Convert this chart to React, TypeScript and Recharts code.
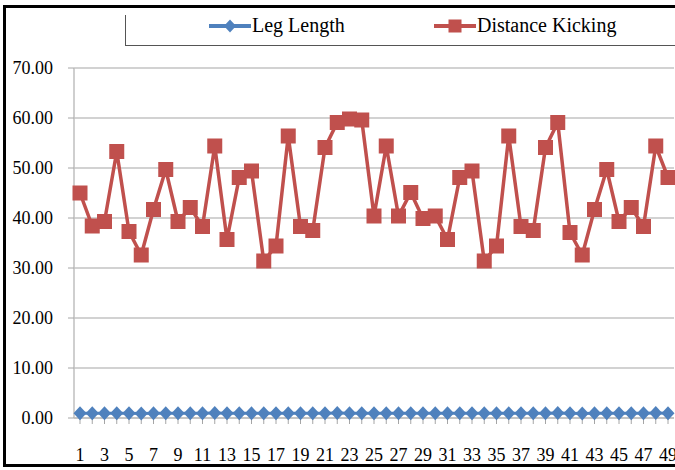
import React from 'react';
import { LineChart, Line, XAxis, YAxis, CartesianGrid } from 'recharts';

const trials = [
  '1', '2', '3', '4', '5', '6', '7', '8', '9', '10',
  '11', '12', '13', '14', '15', '16', '17', '18', '19', '20',
  '21', '22', '23', '24', '25', '26', '27', '28', '29', '30',
  '31', '32', '33', '34', '35', '36', '37', '38', '39', '40',
  '41', '42', '43', '44', '45', '46', '47', '48', '49',
];

const legLength = [
  0.95, 0.93, 0.96, 0.97, 0.94, 0.92, 0.95, 0.96, 0.93, 0.94,
  0.97, 0.98, 0.95, 0.94, 0.93, 0.96, 0.95, 0.97, 0.94, 0.93,
  0.96, 0.98, 0.97, 0.95, 0.94, 0.96, 0.93, 0.95, 0.94, 0.96,
  0.95, 0.94, 0.93, 0.96, 0.95, 0.97, 0.94, 0.93, 0.96, 0.98,
  0.94, 0.92, 0.95, 0.96, 0.93, 0.94, 0.97, 0.98, 0.95,
];

const distanceKicking = [
  45.0, 38.4, 39.3, 53.3, 37.3, 32.6, 41.7, 49.7, 39.3, 42.1,
  38.3, 54.4, 35.7, 48.1, 49.4, 31.4, 34.4, 56.4, 38.3, 37.5,
  54.1, 59.1, 59.8, 59.6, 40.4, 54.4, 40.4, 45.1, 39.9, 40.4,
  35.7, 48.1, 49.4, 31.4, 34.4, 56.4, 38.3, 37.5, 54.1, 59.1,
  37.1, 32.6, 41.7, 49.7, 39.3, 42.1, 38.3, 54.4, 48.1,
];

const yTicks = [0, 10, 20, 30, 40, 50, 60, 70];

const BLUE = '#4F81BD';
const RED = '#C0504D';
const FONT = 'Liberation Serif, Tinos, DejaVu Serif, serif';

const data = trials.map((t, i) => ({
  trial: t,
  leg: legLength[i],
  distance: distanceKicking[i],
}));

const SquareDot = (props: any) => {
  const { cx, cy, index } = props;
  if (cx == null || cy == null) return <g key={index} />;
  return <rect key={index} x={cx - 7.5} y={cy - 7.5} width={15} height={15} fill={RED} />;
};

const DiamondDot = (props: any) => {
  const { cx, cy, index } = props;
  if (cx == null || cy == null) return <g key={index} />;
  return (
    <polygon
      key={index}
      points={`${cx},${cy - 7} ${cx + 6.5},${cy} ${cx},${cy + 7} ${cx - 6.5},${cy}`}
      fill={BLUE}
    />
  );
};

const LegendIcon = ({ color, shape }: { color: string; shape: 'diamond' | 'square' }) => (
  <svg width={42} height={16} style={{ display: 'block' }}>
    <line x1={0} y1={8} x2={42} y2={8} stroke={color} strokeWidth={4} />
    {shape === 'diamond' ? (
      <polygon points="21,1.5 27,8 21,14.5 15,8" fill={color} />
    ) : (
      <rect x={14.5} y={1.5} width={13} height={13} fill={color} />
    )}
  </svg>
);

const App: React.FC = () => {
  return (
    <div
      style={{
        position: 'absolute',
        left: 0,
        top: 0,
        width: 675,
        height: 470,
        overflow: 'hidden',
        background: '#fff',
        fontFamily: FONT,
      }}
    >
      {/* outer frame, runs off the right edge */}
      <div
        style={{
          position: 'absolute',
          left: 3,
          top: 5,
          width: 700,
          height: 456,
          border: '3px solid #000',
        }}
      />
      {/* legend box */}
      <div
        style={{
          position: 'absolute',
          left: 125,
          top: 15,
          width: 600,
          height: 30,
          borderLeft: '1.5px solid #555',
          borderBottom: '1.5px solid #555',
        }}
      />
      <div style={{ position: 'absolute', left: 209, top: 14, display: 'flex', alignItems: 'center' }}>
        <LegendIcon color={BLUE} shape="diamond" />
        <span style={{ fontSize: 20, marginLeft: 1, color: '#000', fontFamily: FONT }}>Leg Length</span>
      </div>
      <div style={{ position: 'absolute', left: 434, top: 14, display: 'flex', alignItems: 'center' }}>
        <LegendIcon color={RED} shape="square" />
        <span style={{ fontSize: 20, marginLeft: 1, color: '#000', fontFamily: FONT }}>Distance Kicking</span>
      </div>

      <div style={{ position: 'absolute', left: 0, top: 0 }}>
        <LineChart
          width={675}
          height={470}
          data={data}
          margin={{ top: 68, right: 1, bottom: 2, left: 0 }}
        >
          <CartesianGrid vertical={false} stroke="#A6A6A6" strokeWidth={1.2} />
          <XAxis
            dataKey="trial"
            interval={0}
            padding={{ left: 6, right: 6 }}
            tickFormatter={(v: string) => (Number(v) % 2 === 1 ? v : '')}
            height={50}
            tickSize={6}
            tickMargin={24}
            axisLine={{ stroke: '#BFBFBF', strokeWidth: 1.5 }}
            tickLine={{ stroke: '#A6A6A6' }}
            tick={{ fill: '#000', fontSize: 18, fontFamily: FONT }}
          />
          <YAxis
            domain={[0, 70]}
            ticks={yTicks}
            width={74}
            tickSize={6}
            tickMargin={15}
            tickFormatter={(v: number) => v.toFixed(2)}
            axisLine={{ stroke: '#BFBFBF', strokeWidth: 1.5 }}
            tickLine={{ stroke: '#A6A6A6' }}
            tick={{ fill: '#000', fontSize: 18, fontFamily: FONT }}
          />
          <Line
            dataKey="leg"
            stroke={BLUE}
            strokeWidth={3}
            dot={DiamondDot}
            isAnimationActive={false}
          />
          <Line
            dataKey="distance"
            stroke={RED}
            strokeWidth={3.5}
            dot={SquareDot}
            isAnimationActive={false}
          />
        </LineChart>
      </div>
    </div>
  );
};

export default App;
